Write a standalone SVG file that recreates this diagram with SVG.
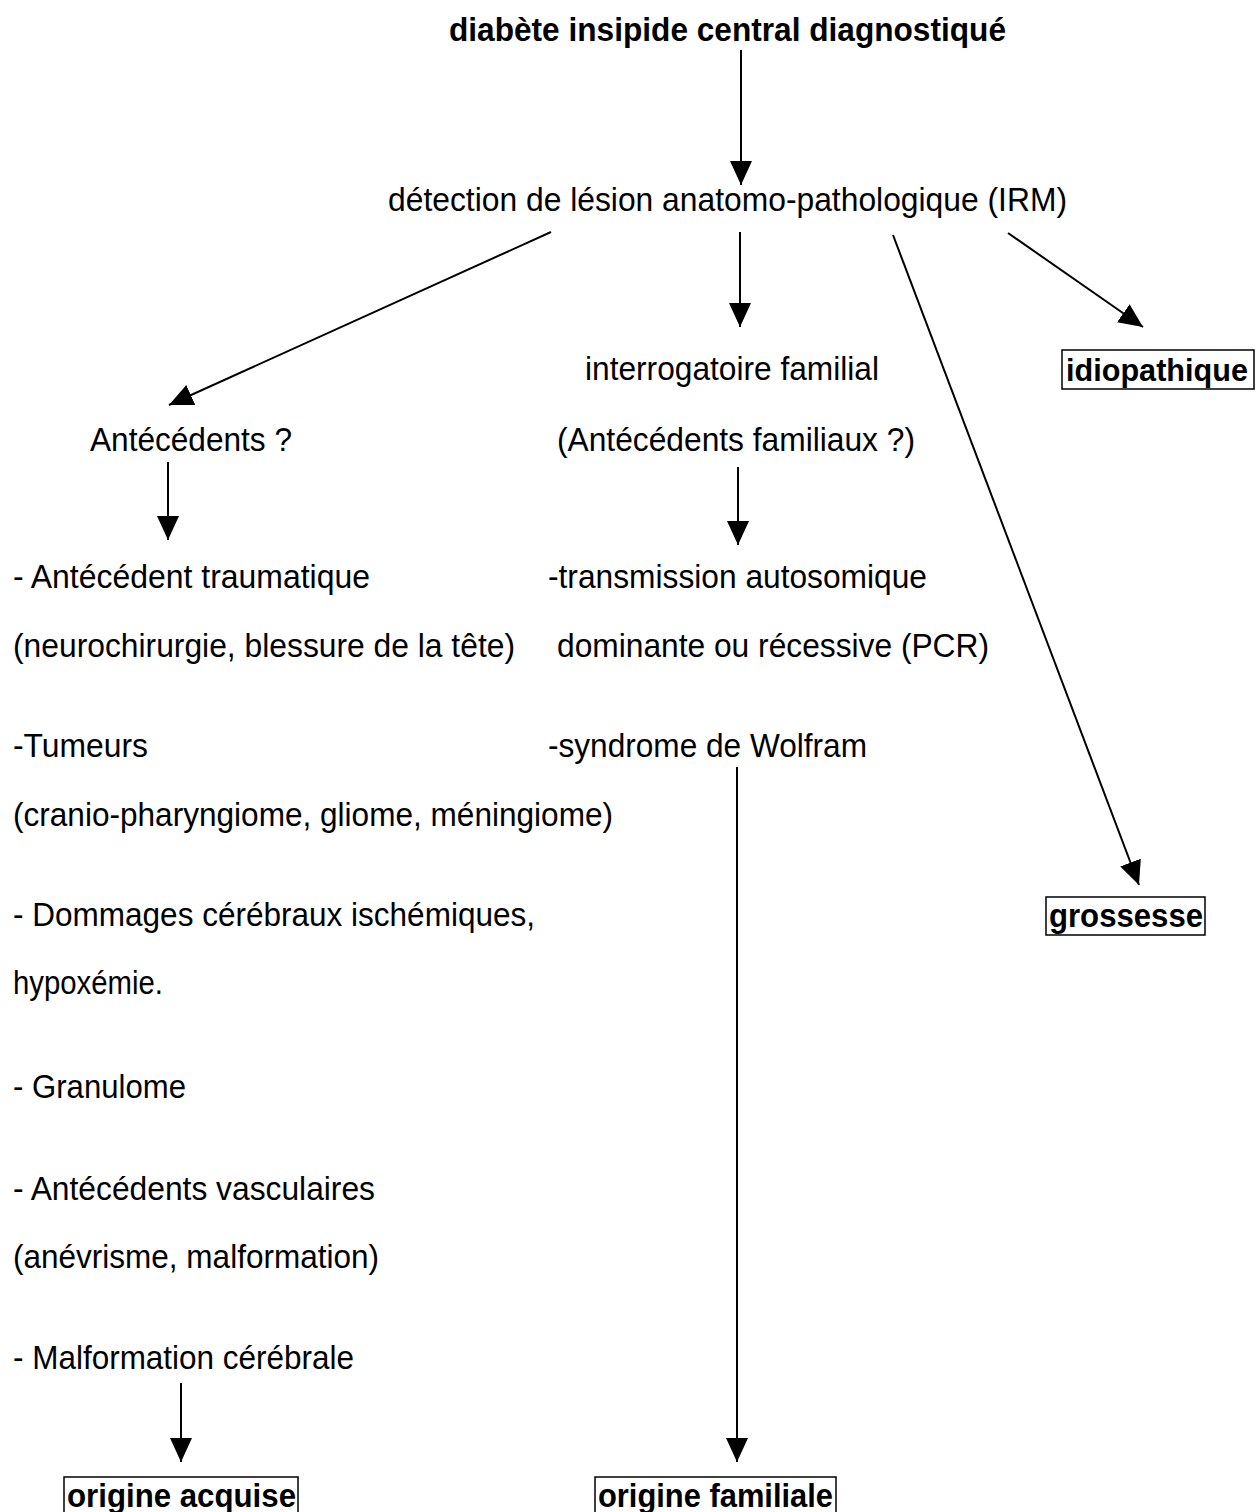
<svg xmlns="http://www.w3.org/2000/svg" width="1259" height="1512" viewBox="0 0 1259 1512">
<style>
text{font-family:"Liberation Sans",Arial,sans-serif;font-size:34px;fill:#000}
.b{font-weight:bold;font-size:33px}
.box{fill:none;stroke:#000;stroke-width:1.5}
.c{stroke:#000;stroke-width:2;fill:none;marker-end:url(#ah)}
</style>
<defs>
<marker id="ah" markerUnits="userSpaceOnUse" markerWidth="26" markerHeight="24" refX="24" refY="11" orient="auto">
<path d="M0,0 L24,11 L0,22 z" fill="#000"/>
</marker>
</defs>
<rect width="1259" height="1512" fill="#fff"/>
<g id="connectors">
<line class="c" x1="741" y1="50" x2="741" y2="185"/>
<line class="c" x1="551" y1="232" x2="169" y2="405"/>
<line class="c" x1="740" y1="232" x2="740" y2="327"/>
<line class="c" x1="893" y1="235" x2="1139" y2="885"/>
<line class="c" x1="1008" y1="233" x2="1143" y2="327"/>
<line class="c" x1="168" y1="462" x2="168" y2="540"/>
<line class="c" x1="738" y1="467" x2="738" y2="545"/>
<line class="c" x1="737" y1="767" x2="737" y2="1462"/>
<line class="c" x1="181" y1="1383" x2="181" y2="1462"/>
</g>
<g id="n-title"><text class="b" x="449" y="41" textLength="557" lengthAdjust="spacingAndGlyphs">diabète insipide central diagnostiqué</text></g>
<g id="n-detection"><text x="388" y="211" textLength="679" lengthAdjust="spacingAndGlyphs">détection de lésion anatomo-pathologique (IRM)</text></g>
<g id="n-interrogatoire">
<text x="585" y="380" textLength="294" lengthAdjust="spacingAndGlyphs">interrogatoire familial</text>
<text x="557" y="451" textLength="358" lengthAdjust="spacingAndGlyphs">(Antécédents familiaux ?)</text>
</g>
<g id="n-idiopathique">
<rect class="box" x="1062" y="350" width="192" height="39"/>
<text class="b" x="1066" y="381" font-size="31" style="font-size:31px" textLength="182" lengthAdjust="spacingAndGlyphs">idiopathique</text>
</g>
<g id="n-antecedents"><text x="90" y="451" textLength="202" lengthAdjust="spacingAndGlyphs">Antécédents ?</text></g>
<g id="n-acquise-list">
<text x="13" y="588" textLength="357" lengthAdjust="spacingAndGlyphs">- Antécédent traumatique</text>
<text x="13" y="657" textLength="502" lengthAdjust="spacingAndGlyphs">(neurochirurgie, blessure de la tête)</text>
<text x="13" y="757" textLength="135" lengthAdjust="spacingAndGlyphs">-Tumeurs</text>
<text x="13" y="826" textLength="600" lengthAdjust="spacingAndGlyphs">(cranio-pharyngiome, gliome, méningiome)</text>
<text x="13" y="926" textLength="522" lengthAdjust="spacingAndGlyphs">- Dommages cérébraux ischémiques,</text>
<text x="13" y="994" textLength="150" lengthAdjust="spacingAndGlyphs">hypoxémie.</text>
<text x="13" y="1098" textLength="173" lengthAdjust="spacingAndGlyphs">- Granulome</text>
<text x="13" y="1200" textLength="362" lengthAdjust="spacingAndGlyphs">- Antécédents vasculaires</text>
<text x="13" y="1268" textLength="366" lengthAdjust="spacingAndGlyphs">(anévrisme, malformation)</text>
<text x="13" y="1369" textLength="341" lengthAdjust="spacingAndGlyphs">- Malformation cérébrale</text>
</g>
<g id="n-familial-list">
<text x="548" y="588" textLength="379" lengthAdjust="spacingAndGlyphs">-transmission autosomique</text>
<text x="557" y="657" textLength="432" lengthAdjust="spacingAndGlyphs">dominante ou récessive (PCR)</text>
<text x="548" y="757" textLength="319" lengthAdjust="spacingAndGlyphs">-syndrome de Wolfram</text>
</g>
<g id="n-grossesse">
<rect class="box" x="1046" y="897" width="159" height="38"/>
<text class="b" x="1049" y="927" textLength="154" lengthAdjust="spacingAndGlyphs">grossesse</text>
</g>
<g id="n-origine-acquise">
<rect class="box" x="64" y="1477" width="234" height="40"/>
<text class="b" x="67" y="1507" textLength="229" lengthAdjust="spacingAndGlyphs">origine acquise</text>
</g>
<g id="n-origine-familiale">
<rect class="box" x="595" y="1477" width="241" height="40"/>
<text class="b" x="598" y="1507" textLength="235" lengthAdjust="spacingAndGlyphs">origine familiale</text>
</g>
</svg>
